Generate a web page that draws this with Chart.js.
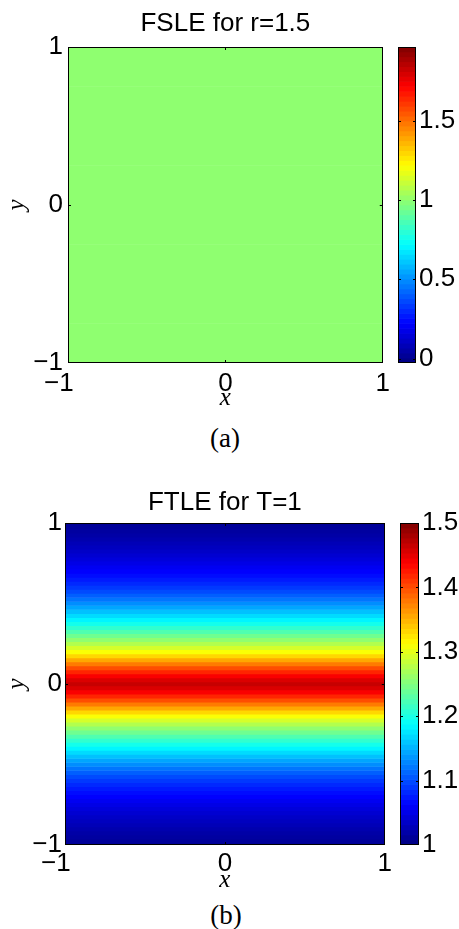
<!DOCTYPE html>
<html>
<head>
<meta charset="utf-8">
<title>FSLE and FTLE</title>
<script src="https://cdn.jsdelivr.net/npm/chart.js@4.4.1/dist/chart.umd.min.js"></script>
<style>
    html, body { margin: 0; padding: 0; background: #fff; }
    body { position: relative; width: 459px; height: 929px; overflow: hidden; }
    canvas { position: absolute; }
    .caption {
        position: absolute; width: 120px; text-align: center;
        font: 27px "Liberation Serif", "Times New Roman", serif;
        line-height: 30px; color: #000;
    }
</style>
</head>
<body>
<canvas id="fsleMap" width="395" height="415" style="left:0;top:0"></canvas>
<canvas id="fsleBar" width="69" height="415" style="left:390px;top:0"></canvas>
<div class="caption" style="left:165px;top:423px">(a)</div>

<canvas id="ftleMap" width="395" height="420" style="left:0;top:477px"></canvas>
<canvas id="ftleBar" width="69" height="420" style="left:390px;top:477px"></canvas>
<div class="caption" style="left:166px;top:900px">(b)</div>

<script>
/*==============================================================
    DATA
==============================================================*/
const axisTicks = [-1, 0, 1];

// (a) FSLE for r=1.5 : the field is uniform
const fsleRowsY = [-1, -0.5, 0, 0.5, 1];
const fsleValues = [1, 1, 1, 1, 1];
const fsleRange = [-0.028, 1.966];
const fsleBarTicks = [0, 0.5, 1, 1.5];

// (b) FTLE for T=1 : varies with y only, rows from y=-1 up to y=1
const ftleRowsY = [
    -1, -0.975, -0.95, -0.925, -0.9, -0.875, -0.85, -0.825, -0.8, -0.775,
    -0.75, -0.725, -0.7, -0.675, -0.65, -0.625, -0.6, -0.575, -0.55, -0.525,
    -0.5, -0.475, -0.45, -0.425, -0.4, -0.375, -0.35, -0.325, -0.3, -0.275,
    -0.25, -0.225, -0.2, -0.175, -0.15, -0.125, -0.1, -0.075, -0.05, -0.025,
    0,
    0.025, 0.05, 0.075, 0.1, 0.125, 0.15, 0.175, 0.2, 0.225, 0.25,
    0.275, 0.3, 0.325, 0.35, 0.375, 0.4, 0.425, 0.45, 0.475, 0.5,
    0.525, 0.55, 0.575, 0.6, 0.625, 0.65, 0.675, 0.7, 0.725, 0.75,
    0.775, 0.8, 0.825, 0.85, 0.875, 0.9, 0.925, 0.95, 0.975, 1
];
const ftleValues = [
    1.010, 1.013, 1.016, 1.019, 1.023, 1.027, 1.031, 1.035, 1.040, 1.045,
    1.050, 1.056, 1.062, 1.068, 1.075, 1.082, 1.090, 1.099, 1.109, 1.120,
    1.132, 1.144, 1.157, 1.170, 1.183, 1.197, 1.211, 1.226, 1.242, 1.258,
    1.275, 1.292, 1.310, 1.332, 1.355, 1.377, 1.400, 1.420, 1.440, 1.455,
    1.465,
    1.455, 1.440, 1.420, 1.400, 1.377, 1.355, 1.332, 1.310, 1.292, 1.275,
    1.258, 1.242, 1.226, 1.211, 1.197, 1.183, 1.170, 1.157, 1.144, 1.132,
    1.120, 1.109, 1.099, 1.090, 1.082, 1.075, 1.068, 1.062, 1.056, 1.050,
    1.045, 1.040, 1.035, 1.031, 1.027, 1.023, 1.019, 1.016, 1.013, 1.010
];
const ftleRange = [1, 1.5];
const ftleBarTicks = [1, 1.1, 1.2, 1.3, 1.4, 1.5];

const colorSteps = 64;

/*==============================================================
    HELPERS
==============================================================*/
const sansFont = '"Liberation Sans", Arial, Helvetica, sans-serif';
const serifFont = '"Liberation Serif", "DejaVu Serif", serif';

function jet(v, range) {
    let t = (v - range[0]) / (range[1] - range[0]);
    t = Math.min(1, Math.max(0, t));
    const c = k => Math.round(255 * Math.min(1, Math.max(0, 1.5 - Math.abs(4 * t - k))));
    return "rgb(" + c(3) + "," + c(2) + "," + c(1) + ")";
}

function tickText(v) {
    return v < 0 ? "\u2212" + Math.abs(v) : String(v);
}

// x labels: the negative one sits a little left of its tick, as in the original
function xTickText(v) {
    return v < 0 ? tickText(v) + "\u2002\u2009" : tickText(v);
}

// box and inward tick marks, drawn after the cells
const framePlugin = {
    id: "frame",
    afterDatasetsDraw(chart) {
        const ctx = chart.ctx;
        const a = chart.chartArea;
        const len = 3;
        ctx.save();
        ctx.strokeStyle = "#000";
        ctx.lineWidth = 1;
        ctx.strokeRect(Math.round(a.left) + 0.5, Math.round(a.top) + 0.5,
            Math.round(a.right - a.left) - 1, Math.round(a.bottom - a.top) - 1);
        ctx.beginPath();
        Object.values(chart.scales).forEach(s => {
            if (!s.options.display) return;
            s.ticks.forEach(t => {
                const p = Math.round(s.getPixelForValue(t.value)) + 0.5;
                if (s.isHorizontal()) {
                    if (p < a.left + 2 || p > a.right - 2) return;
                    ctx.moveTo(p, a.bottom); ctx.lineTo(p, a.bottom - len);
                    ctx.moveTo(p, a.top); ctx.lineTo(p, a.top + len);
                } else {
                    if (p < a.top + 2 || p > a.bottom - 2) return;
                    ctx.moveTo(a.left, p); ctx.lineTo(a.left + len, p);
                    ctx.moveTo(a.right, p); ctx.lineTo(a.right - len, p);
                }
            });
        });
        ctx.stroke();
        ctx.restore();
    }
};

/*==============================================================
    FIELD MAP
==============================================================*/
function fieldChart(id, titleText, titlePad, rowsY, values, range, yWidth, yPad, xPad, rightPad) {
    new Chart(document.getElementById(id), {
        type: "bar",
        data: {
            datasets: [{
                data: rowsY.map(y => ({ x: [-1, 1], y: y })),
                backgroundColor: values.map(v => jet(v, range)),
                borderWidth: 0,
                barPercentage: 1,
                categoryPercentage: 1,
                clip: 0
            }]
        },
        options: {
            indexAxis: "y",
            responsive: false,
            animation: false,
            events: [],
            layout: { padding: { left: 0, right: rightPad, top: 0, bottom: 0 } },
            plugins: {
                legend: { display: false },
                tooltip: { enabled: false },
                title: {
                    display: true,
                    fullSize: false,
                    text: titleText,
                    color: "#000",
                    font: { family: sansFont, size: 26, weight: "normal" },
                    padding: titlePad
                }
            },
            scales: {
                x: {
                    type: "linear", min: -1, max: 1, offset: false,
                    afterBuildTicks: s => { s.ticks = axisTicks.map(v => ({ value: v })); },
                    afterFit: s => { s.height = 52; },
                    grid: { display: false, drawTicks: false },
                    border: { display: false },
                    ticks: {
                        color: "#000", padding: xPad, maxRotation: 0,
                        font: { family: sansFont, size: 26 },
                        callback: v => xTickText(v)
                    },
                    title: {
                        display: true, text: "x", color: "#000",
                        font: { family: serifFont, size: 25, style: "italic" },
                        padding: { top: 0, bottom: 2 }
                    }
                },
                y: {
                    type: "linear", min: -1, max: 1, offset: false,
                    afterBuildTicks: s => { s.ticks = axisTicks.map(v => ({ value: v })); },
                    afterFit: s => { s.width = yWidth; },
                    grid: { display: false, drawTicks: false, offset: false },
                    border: { display: false },
                    ticks: {
                        color: "#000", padding: yPad,
                        font: { family: sansFont, size: 26 },
                        callback: v => tickText(v)
                    },
                    title: {
                        display: true, text: "y", color: "#000",
                        font: { family: serifFont, size: 25, style: "italic" },
                        padding: { top: 2, bottom: 0 }
                    }
                }
            }
        },
        plugins: [framePlugin]
    });
}

/*==============================================================
    COLORBAR
==============================================================*/
function colorbarChart(id, range, ticks, pad, axisWidth) {
    const step = (range[1] - range[0]) / colorSteps;
    const centers = [];
    for (let i = 0; i < colorSteps; i++) centers.push(range[0] + (i + 0.5) * step);
    new Chart(document.getElementById(id), {
        type: "bar",
        data: {
            datasets: [{
                data: centers.map(c => ({ x: [0, 1], y: c })),
                backgroundColor: centers.map(c => jet(c, range)),
                borderWidth: 0,
                barPercentage: 1,
                categoryPercentage: 1,
                clip: 0
            }]
        },
        options: {
            indexAxis: "y",
            responsive: false,
            animation: false,
            events: [],
            layout: { padding: pad },
            plugins: {
                legend: { display: false },
                tooltip: { enabled: false }
            },
            scales: {
                x: { type: "linear", min: 0, max: 1, display: false },
                y: {
                    type: "linear", position: "right",
                    min: range[0], max: range[1], offset: false,
                    afterBuildTicks: s => { s.ticks = ticks.map(v => ({ value: v })); },
                    afterFit: s => { s.width = axisWidth; },
                    grid: { display: false, drawTicks: false, offset: false },
                    border: { display: false },
                    ticks: {
                        color: "#000", padding: 3,
                        font: { family: sansFont, size: 26 },
                        callback: v => tickText(v)
                    }
                }
            }
        },
        plugins: [framePlugin]
    });
}

/*==============================================================
    DRAW
==============================================================*/
fieldChart("fsleMap", "FSLE for r=1.5", { top: 8.4, bottom: 7.4 },
    fsleRowsY, fsleValues, fsleRange, 68, 5, 5, 11);
colorbarChart("fsleBar", fsleRange, fsleBarTicks,
    { left: 8, right: 0, top: 47, bottom: 52 }, 43);

fieldChart("ftleMap", "FTLE for T=1", { top: 9.9, bottom: 4.9 },
    ftleRowsY, ftleValues, ftleRange, 65, 3, 3, 8);
colorbarChart("ftleBar", ftleRange, ftleBarTicks,
    { left: 10, right: 0, top: 46, bottom: 52 }, 40);
</script>
</body>
</html>
